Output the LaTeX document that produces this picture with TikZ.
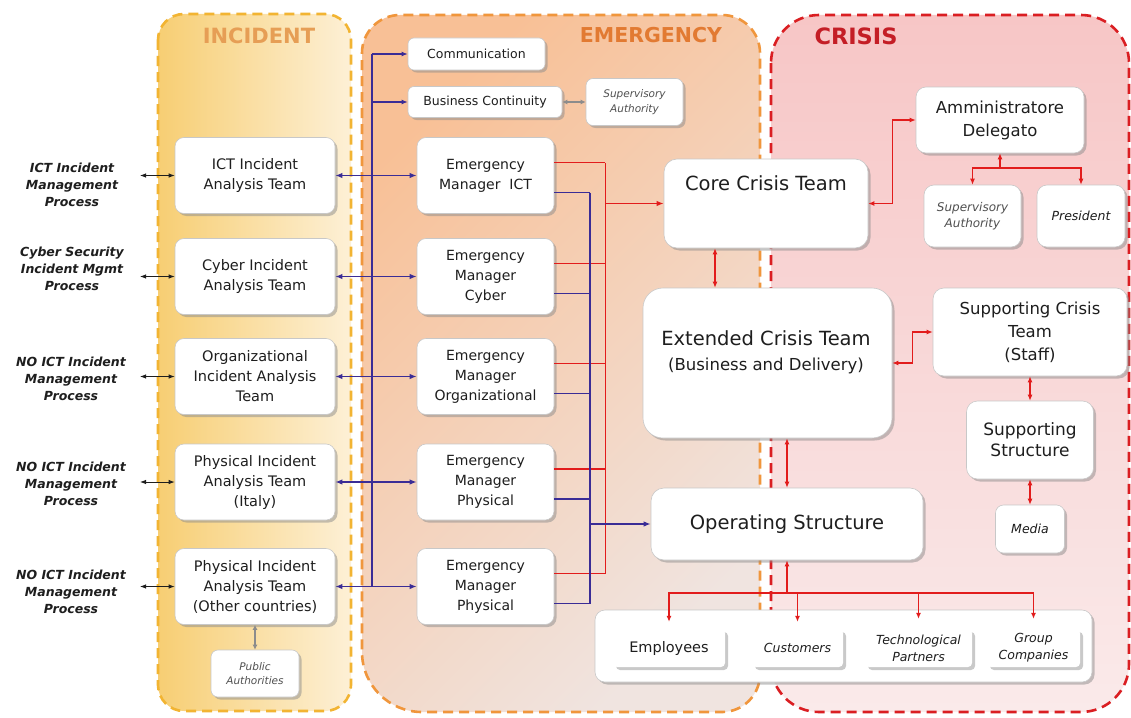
\documentclass[tikz,border=0pt]{standalone}
\usepackage{fontspec}
\setmainfont{DejaVu Sans}
\usetikzlibrary{arrows.meta,shadows}

\definecolor{busblue}{RGB}{58,44,150}
\definecolor{busred}{RGB}{226,28,28}
\definecolor{incEdge}{RGB}{242,180,50}
\definecolor{incL}{RGB}{247,206,115}
\definecolor{incR}{RGB}{253,240,214}
\definecolor{emEdge}{RGB}{240,150,60}
\definecolor{emA}{RGB}{248,192,150}
\definecolor{emB}{RGB}{240,228,224}
\definecolor{crEdge}{RGB}{218,30,34}
\definecolor{crTop}{RGB}{247,198,198}
\definecolor{crMid}{RGB}{241,170,170}
\definecolor{crBot}{RGB}{250,234,234}
\definecolor{incTitle}{RGB}{230,158,85}
\definecolor{emTitle}{RGB}{226,122,50}
\definecolor{crTitle}{RGB}{196,30,38}
\definecolor{boxEdge}{RGB}{200,200,200}
\definecolor{ink}{RGB}{30,30,30}
\definecolor{soft}{RGB}{80,80,80}

\newcommand\fsz[2]{\fontsize{#1}{#2}\selectfont}

\tikzset{
  zone/.style={line width=2.6pt, dash pattern=on 10pt off 6pt},
  card/.style={draw=boxEdge, line width=0.6pt, fill=white, rounded corners=9pt,
    align=center, text=ink, inner sep=0pt,
    drop shadow={shadow xshift=2.5pt, shadow yshift=-2.5pt, fill=black!45, opacity=0.5}},
  tab/.style={fill=white, rounded corners=4pt, minimum height=38, inner sep=0pt,
    align=center, text=ink,
    drop shadow={shadow xshift=3pt, shadow yshift=-3pt, fill=black!35, opacity=0.6}},
  incbox/.style={card, minimum width=160, minimum height=76, font=\fsz{14.5}{20}},
  embox/.style={card, minimum width=137, minimum height=76, font=\fsz{14}{20}},
  proc/.style={font=\fsz{12.5}{17}\bfseries\itshape, align=center, text=ink},
  blueline/.style={draw=busblue, line width=1.7pt},
  redline/.style={draw=busred, line width=1.5pt},
  redthin/.style={draw=busred, line width=1.1pt},
  oneway/.style={-{Latex[length=6pt,width=5pt]}},
  twoway/.style={{Latex[length=6pt,width=5pt]}-{Latex[length=6pt,width=5pt]}},
  bluetwo/.style={{Latex[length=7pt,width=5.5pt]}-{Latex[length=7pt,width=5.5pt]}},
  blacktwo/.style={draw=ink, line width=0.9pt, {Latex[length=6pt,width=4.5pt]}-{Latex[length=6pt,width=4.5pt]}},
  graytwo/.style={draw=black!45, line width=1.5pt, {Latex[length=5pt,width=5pt]}-{Latex[length=5pt,width=5pt]}},
}

\begin{document}
\begin{tikzpicture}[x=1pt,y=-1pt]
\useasboundingbox (0,0) rectangle (1131,717);
\fill[white] (0,0) rectangle (1131,717);

% ---- the three phases ----
\draw[zone, draw=incEdge, left color=incL, right color=incR, rounded corners=26]
  (158,14) rectangle (351,711);
\draw[zone, draw=emEdge, top color=emA, bottom color=emB, shading angle=45]
  (362,300) [rounded corners=38] -- (362,15) -- (760,15) -- (760,712)
  [rounded corners=60] -- (362,712) [rounded corners=38] -- cycle;
\draw[zone, draw=crEdge, top color=crTop, middle color=crMid, bottom color=crBot, rounded corners=48]
  (771,15) rectangle (1129,712);

\node[font=\fsz{21}{25}\bfseries, text=incTitle] (tInc) at (259,36) {INCIDENT};
\node[font=\fsz{20.5}{25}\bfseries, text=emTitle] (tEm) at (651,35) {EMERGENCY};
\node[font=\fsz{22.5}{26}\bfseries, text=crTitle] (tCr) at (856,36) {CRISIS};

% ---- external processes ----
\node[proc] (l1) at (72,185) {ICT Incident\\Management\\Process};
\node[proc] (l2) at (72,269) {Cyber Security\\Incident Mgmt\\Process};
\node[proc] (l3) at (71,379) {NO ICT Incident\\Management\\Process};
\node[proc] (l4) at (71,483.5) {NO ICT Incident\\Management\\Process};
\node[proc] (l5) at (71,592) {NO ICT Incident\\Management\\Process};

% ---- incident teams ----
\node[incbox] (iICT) at (255,175.5) {ICT Incident\\Analysis Team};
\node[incbox] (iCyb) at (255,276.5) {Cyber Incident\\Analysis Team};
\node[incbox] (iOrg) at (255,376.5) {Organizational\\Incident Analysis\\Team};
\node[incbox] (iPhy) at (255,482) {Physical Incident\\Analysis Team\\(Italy)};
\node[incbox] (iOth) at (255,586.5) {Physical Incident\\Analysis Team\\(Other countries)};
\node[card, minimum width=88, minimum height=47, rounded corners=7pt,
  font=\fsz{10.5}{14}\itshape, text=soft] (pub) at (255,673.5) {Public\\Authorities};

\coordinate (x1) at (140,175.5);
\coordinate (x2) at (140,276.5);
\coordinate (x3) at (140,376.5);
\coordinate (x4) at (140,482);
\coordinate (x5) at (140,586.5);
\draw[blacktwo] (x1) -- (iICT);
\draw[blacktwo] (x2) -- (iCyb);
\draw[blacktwo] (x3) -- (iOrg);
\draw[blacktwo] (x4) -- (iPhy);
\draw[blacktwo] (x5) -- (iOth);
\draw[graytwo] (iOth) -- (pub);

% ---- emergency level ----
\node[card, minimum width=137, minimum height=32, rounded corners=6pt,
  font=\fsz{12.5}{16}] (comm) at (476.5,54) {Communication};
\node[card, minimum width=154, minimum height=31, rounded corners=6pt,
  font=\fsz{12.5}{16}] (bc) at (485,102) {Business Continuity};
\node[card, minimum width=97, minimum height=47, rounded corners=7pt,
  font=\fsz{10.5}{15}\itshape, text=soft] (supE) at (634.5,102) {Supervisory\\Authority};
\draw[graytwo] (bc) -- (supE);

\node[embox] (eICT) at (485.5,175.5) {Emergency\\Manager~ ICT};
\node[embox] (eCyb) at (485.5,276.5) {Emergency\\Manager\\Cyber};
\node[embox] (eOrg) at (485.5,376.5) {Emergency\\Manager\\Organizational};
\node[embox] (ePhy) at (485.5,482) {Emergency\\Manager\\Physical};
\node[embox] (eOth) at (485.5,586.5) {Emergency\\Manager\\Physical};

% escalation bus from the incident teams
\coordinate (busTop) at (372,54);
\coordinate (busBC) at (372,102);
\coordinate (busBot) at (372,586.5);
\draw[blueline] (busTop) -- (busBot);
\draw[blueline, oneway] (busTop) -- (comm);
\draw[blueline, oneway] (busBC) -- (bc);
\draw[blueline, bluetwo] (iICT) -- (eICT);
\draw[blueline, bluetwo] (iCyb) -- (eCyb);
\draw[blueline, bluetwo] (iOrg) -- (eOrg);
\draw[blueline, bluetwo] (iPhy) -- (ePhy);
\draw[blueline, bluetwo] (iOth) -- (eOth);

% ---- crisis level ----
\node[card, minimum width=204, minimum height=89, rounded corners=13pt] (core) at (766,203.5) {};
\node[font=\fsz{19.5}{24}, text=ink] (coreT) at (766,183) {Core Crisis Team};
\node[card, minimum width=249, minimum height=150, rounded corners=20pt] (ext) at (767.5,363) {};
\node[font=\fsz{19.5}{24}, text=ink] (extT) at (766,338) {Extended Crisis Team};
\node[font=\fsz{16.5}{20}, text=ink] (extS) at (766,366) {(Business and Delivery)};
\node[card, minimum width=272, minimum height=72, rounded corners=13pt,
  font=\fsz{19.5}{24}] (op) at (787,524) {Operating Structure};

\node[card, minimum width=168, minimum height=66, rounded corners=10pt,
  font=\fsz{16.5}{23}] (amm) at (1000,120) {Amministratore\\Delegato};
\node[card, minimum width=97, minimum height=62, rounded corners=10pt,
  font=\fsz{12}{16}\itshape, text=soft] (supC) at (972.5,216) {Supervisory\\Authority};
\node[card, minimum width=88, minimum height=62, rounded corners=10pt,
  font=\fsz{12.5}{16}\itshape] (pres) at (1081,216) {President};
\node[card, minimum width=194, minimum height=88, rounded corners=11pt,
  font=\fsz{16.5}{23}] (sct) at (1030,332) {Supporting Crisis\\Team\\(Staff)};
\node[card, minimum width=127, minimum height=78, rounded corners=11pt,
  font=\fsz{17}{21}] (ss) at (1030,440) {Supporting\\Structure};
\node[card, minimum width=69, minimum height=48, rounded corners=8pt,
  font=\fsz{12.5}{16}\itshape] (media) at (1030,529) {Media};

% stakeholders of the operating structure
\node[card, minimum width=497, minimum height=72, rounded corners=10pt] (stake) at (843.5,646) {};
\node[tab, minimum width=112, font=\fsz{14.5}{18}] (emp) at (669,648) {Employees};
\node[tab, minimum width=91, font=\fsz{12.5}{18}\itshape] (cust) at (797.5,648) {Customers};
\node[tab, minimum width=107, font=\fsz{12.5}{17}\itshape] (tech) at (918.5,648) {Technological\\Partners};
\node[tab, minimum width=93, font=\fsz{12.5}{17}\itshape] (grp) at (1033.5,648) {Group\\Companies};

% emergency managers towards the crisis level
\foreach \n in {eICT,eCyb,eOrg,ePhy,eOth} {
  \draw[redline] ([yshift=13pt]\n.east) -- ++(51,0);
  \draw[blueline] ([yshift=-17pt]\n.east) -- ++(36,0);
}
\path ([yshift=13pt]eICT.east) ++(51,0) coordinate (rTop);
\path ([yshift=13pt]eOth.east) ++(51,0) coordinate (rBot);
\path ([yshift=-17pt]eICT.east) ++(36,0) coordinate (bTop);
\path ([yshift=-17pt]eOth.east) ++(36,0) coordinate (bBot);
\draw[blueline] (bTop) -- (bBot);
\draw[redline] (rTop) -- (rBot);
\draw[redline, -{Latex[length=7pt,width=5.5pt]}] (rTop |- core) -- (core.west);
\draw[blueline, -{Latex[length=7pt,width=5.5pt]}] (bTop |- op) -- (op.west);

% links inside the crisis level
\coordinate (c1) at ([xshift=-51pt]core.south);
\draw[redthin, twoway] (c1) -- (c1 |- ext.north);
\draw[redthin, twoway] (op.north |- ext.south) -- (op.north);
\draw[redthin, twoway] (core.east) -- ++(24,0) |- (amm.west);
\draw[redthin, twoway] (ext.east) -- ++(20,0) |- (sct.west);
\draw[redthin, twoway] (sct.south) -- (ss.north);
\draw[redthin, twoway] (ss.south) -- (media.north);

\coordinate (j1) at (1000,168);
\draw[redthin, oneway] (j1) -- (amm.south);
\draw[redthin, oneway] (j1) -| (supC.north);
\draw[redthin, oneway] (j1) -| (pres.north);

\coordinate (j2) at (787,593);
\draw[redthin, oneway] (j2) -- (op.south);
\draw[redthin, oneway, shorten >=7pt] (j2) -| (emp.north);
\draw[redthin, oneway, shorten >=7pt] (j2) -| (cust.north);
\draw[redthin, oneway, shorten >=10pt] (j2) -| (tech.north);
\draw[redthin, oneway, shorten >=10pt] (j2) -| (grp.north);
\end{tikzpicture}
\end{document}
